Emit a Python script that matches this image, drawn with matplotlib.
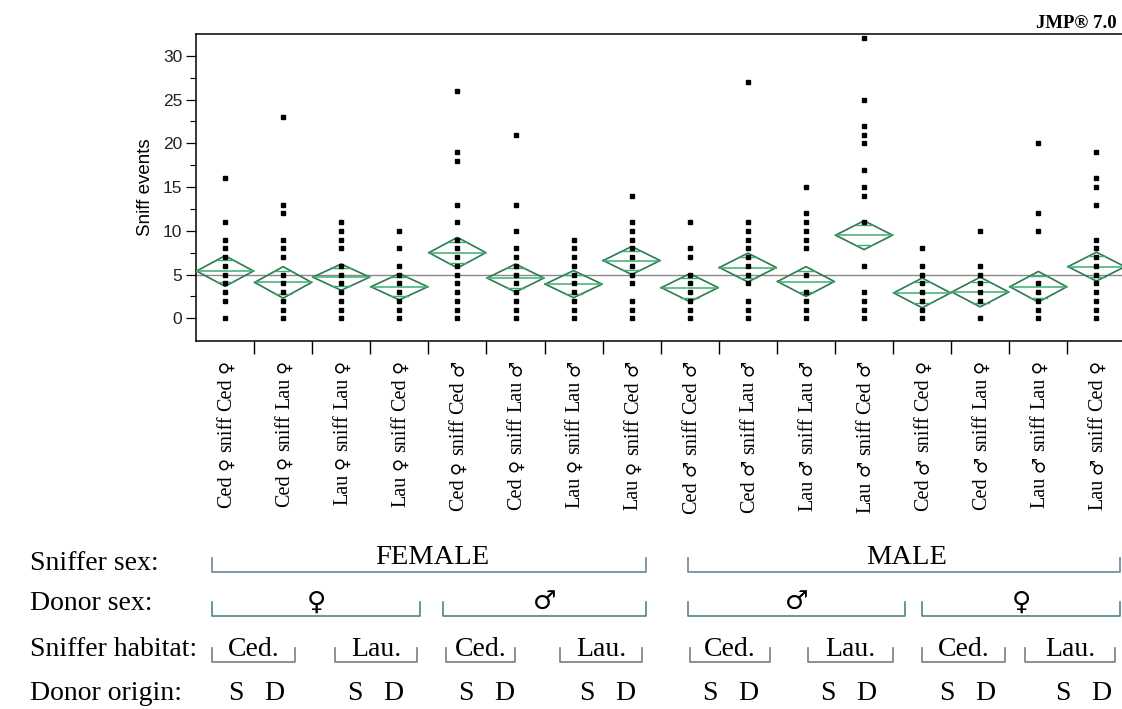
import matplotlib
matplotlib.use("Agg")
import matplotlib.pyplot as plt
import numpy as np
from matplotlib.lines import Line2D
from matplotlib.font_manager import FontProperties
from matplotlib.transforms import blended_transform_factory, IdentityTransform, offset_copy

FEM = "\u2640"
MAL = "\u2642"

# --- data -------------------------------------------------------------
groups = [
    f"Ced {FEM} sniff Ced {FEM}", f"Ced {FEM} sniff Lau {FEM}",
    f"Lau {FEM} sniff Lau {FEM}", f"Lau {FEM} sniff Ced {FEM}",
    f"Ced {FEM} sniff Ced {MAL}", f"Ced {FEM} sniff Lau {MAL}",
    f"Lau {FEM} sniff Lau {MAL}", f"Lau {FEM} sniff Ced {MAL}",
    f"Ced {MAL} sniff Ced {MAL}", f"Ced {MAL} sniff Lau {MAL}",
    f"Lau {MAL} sniff Lau {MAL}", f"Lau {MAL} sniff Ced {MAL}",
    f"Ced {MAL} sniff Ced {FEM}", f"Ced {MAL} sniff Lau {FEM}",
    f"Lau {MAL} sniff Lau {FEM}", f"Lau {MAL} sniff Ced {FEM}",
]

sniff_events = [
    [16, 11, 9, 8, 7, 6, 5, 4, 3, 2, 0],
    [23, 13, 12, 9, 8, 7, 5, 4, 3, 2, 1, 0],
    [11, 10, 9, 8, 6, 5, 4, 3, 2, 1, 0],
    [10, 8, 6, 5, 4, 3, 2, 1, 0],
    [26, 19, 18, 13, 11, 9, 8, 7, 6, 5, 4, 3, 2, 1, 0],
    [21, 13, 10, 8, 7, 6, 5, 4, 3, 2, 1, 0],
    [9, 8, 7, 6, 5, 4, 3, 2, 1, 0],
    [14, 11, 10, 9, 8, 7, 6, 5, 4, 2, 1, 0],
    [11, 8, 7, 5, 4, 3, 2, 1, 0],
    [27, 11, 10, 9, 8, 7, 6, 5, 4, 2, 1, 0],
    [15, 12, 11, 10, 9, 8, 5, 3, 2, 1, 0],
    [32, 25, 22, 21, 20, 17, 15, 14, 11, 6, 3, 2, 1, 0],
    [8, 6, 5, 4, 3, 2, 1, 0],
    [10, 6, 5, 4, 3, 2, 0],
    [20, 12, 10, 4, 3, 2, 1, 0],
    [19, 16, 15, 13, 9, 8, 7, 6, 5, 4, 3, 2, 1, 0],
]

group_means = [5.4, 4.1, 4.7, 3.6, 7.5, 4.6, 3.9, 6.6,
               3.5, 5.8, 4.2, 9.5, 2.9, 3.0, 3.6, 5.9]
ci_half = [1.75, 1.8, 1.5, 1.5, 1.75, 1.6, 1.55, 1.6,
           1.6, 1.65, 1.7, 1.65, 1.7, 1.7, 1.75, 1.65]
grand_mean = 5.0

# --- figure -----------------------------------------------------------
W, H = 1122, 709
fig = plt.figure(figsize=(W / 100, H / 100), dpi=100)
ax = fig.add_axes([196 / W, 1 - 341 / H, (W - 196) / W, (341 - 34) / H])

SERIF = ["Liberation Serif", "DejaVu Sans"]
SANS = ["Liberation Sans", "DejaVu Sans"]

diamond_c = "#2b7a50"
inner_c = "#3fae6e"
half_w = 0.49

for i, vals in enumerate(sniff_events):
    m, h = group_means[i], ci_half[i]
    ax.plot([i - half_w, i, i + half_w, i, i - half_w],
            [m, m + h, m, m - h, m], color=diamond_c, lw=1.2, zorder=3)
    ax.plot([i - half_w, i + half_w], [m, m], color=inner_c, lw=1.1, zorder=3)
    d = h / np.sqrt(2)
    ow = half_w * (1 - d / h)
    for s in (1, -1):
        ax.plot([i - ow, i + ow], [m + s * d, m + s * d], color=inner_c, lw=1.0, zorder=3)
    ax.plot([i] * len(vals), vals, "s", ms=2.8, color="black", zorder=4)

ax.axhline(grand_mean, color="#8a8a8a", lw=1.0, zorder=2)

ax.set_xlim(-0.5, 15.44)
ax.set_ylim(-2.6, 32.5)

ax.set_yticks(range(0, 31, 5))
ax.set_yticks(np.arange(0, 31, 2.5), minor=True)
for lab in ax.get_yticklabels():
    lab.set_family(SANS)
ax.tick_params(axis="y", which="major", length=7, width=0.9, pad=3,
               labelsize=12.5, labelcolor="#222222", direction="out")
ax.tick_params(axis="y", which="minor", length=4, width=0.8, direction="out")

# separators between categories
ax.set_xticks(np.arange(0.5, 15.5, 1.0))
ax.set_xticklabels([])
ax.tick_params(axis="x", which="major", length=9, width=1.0, direction="out")

ax.set_ylabel("Sniff events", family=SANS, fontsize=13.5, labelpad=6)

for side in ("left", "top", "bottom"):
    ax.spines[side].set_linewidth(1.1)
ax.spines["right"].set_visible(False)

fig.text(1117 / W, 1 - 24 / H, "JMP\u00ae 7.0", ha="right", va="center",
         family=SERIF, fontsize=13.5, fontweight="bold")

# --- rotated category labels (serif words, larger sex symbols) ---------
renderer = fig.canvas.get_renderer()
word_fp = FontProperties(family="Liberation Serif", size=14.5)
sym_fp = FontProperties(family="DejaVu Sans", size=13)


def text_width(s, fp):
    t = fig.text(0, 0, s, fontproperties=fp)
    w = t.get_window_extent(renderer).width
    t.remove()
    return w


gap = text_width("a a", word_fp) - text_width("aa", word_fp)
lab_trans = offset_copy(blended_transform_factory(ax.transData, IdentityTransform()),
                        fig=fig, x=6, y=0, units="dots")
top_px = H - 360

for i, g in enumerate(groups):
    tokens = g.split(" ")
    fps = [sym_fp if t in (FEM, MAL) else word_fp for t in tokens]
    widths = [text_width(t, fp) for t, fp in zip(tokens, fps)]
    y = top_px - (sum(widths) + gap * (len(tokens) - 1))
    for t, fp, w in zip(tokens, fps, widths):
        fig.text(i, y, t, fontproperties=fp, rotation=90, rotation_mode="anchor",
                 ha="left", va="baseline", transform=lab_trans)
        y += w + gap


# --- grouping key below the chart --------------------------------------
def px(x, y):
    return x / W, 1 - y / H


def bracket(x0, x1, y, rise, color):
    xs = [x0, x0, x1, x1]
    ys = [y - rise, y, y, y - rise]
    fx, fy = zip(*[px(a, b) for a, b in zip(xs, ys)])
    fig.add_artist(Line2D(fx, fy, color=color, lw=1.2))


def label(x, y, s, size=20, family=SERIF):
    fig.text(*px(x, y), s, ha="center", va="center", family=family, fontsize=size)


row_titles = ["Sniffer sex:", "Donor sex:", "Sniffer habitat:", "Donor origin:"]
row_y = [563, 604, 650, 694]
for t, y in zip(row_titles, row_y):
    fig.text(*px(30, y), t, ha="left", va="center", family=SERIF, fontsize=20)

for x0, x1, t in [(212, 646, "FEMALE"), (688, 1120, "MALE")]:
    bracket(x0, x1, 572, 14, "#6b8797")
    label((x0 + x1) / 2 + 3, 557, t, size=20.5)

for x0, x1, t in [(212, 420, FEM), (443, 646, MAL), (688, 905, MAL), (922, 1120, FEM)]:
    bracket(x0, x1, 616, 14, "#4f8585")
    label((x0 + x1) / 2, 603, t, size=19, family=["DejaVu Sans"])

for x0, x1, t in [(212, 295, "Ced."), (335, 417, "Lau."), (446, 515, "Ced."),
                  (560, 642, "Lau."), (690, 770, "Ced."), (808, 893, "Lau."),
                  (922, 1005, "Ced."), (1025, 1115, "Lau.")]:
    bracket(x0, x1, 662, 14, "#7d7d7d")
    label((x0 + x1) / 2, 650, t)

for xs in [236, 355, 466, 587, 710, 828, 947, 1063]:
    label(xs, 694, "S")
    label(xs + 38, 694, "D")

fig.savefig("out.png", dpi=100)
